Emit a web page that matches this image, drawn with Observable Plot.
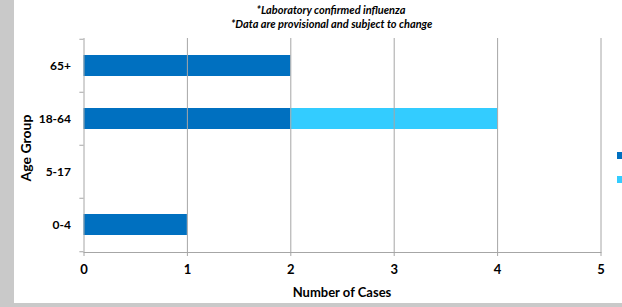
<!DOCTYPE html>
<html>
<head>
<meta charset="utf-8">
<script src="https://cdn.jsdelivr.net/npm/d3@7"></script>
<script src="https://cdn.jsdelivr.net/npm/@observablehq/plot@0.6"></script>
<style>
  html, body { margin: 0; padding: 0; }
  body { width: 622px; height: 307px; overflow: hidden; font-family: Lato, "Open Sans", sans-serif; }
  #wrap { position: relative; width: 622px; height: 307px; background: #c9c9c9; overflow: hidden; }
  #panel { position: absolute; left: 14px; top: 0; width: 608px; height: 303px; background: #fff; }
  #chart { position: absolute; left: 0; top: 0; }
  .title { position: absolute; left: 231px; width: 200px; text-align: center; font-style: italic; font-weight: bold; font-size: 11px; color: #000; white-space: nowrap; }
  .sw { position: absolute; width: 7px; height: 7px; }
  .ylab { position: absolute; left: 25px; top: 148px; transform: translate(-50%, -50%) rotate(-90deg); font-weight: bold; font-size: 14px; white-space: nowrap; }
  .xlab { position: absolute; left: 342px; top: 292px; transform: translate(-50%, -50%); font-weight: bold; font-size: 13px; white-space: nowrap; }
</style>
</head>
<body>
<div id="wrap">
  <div id="panel"></div>
  <div id="chart"></div>
  <div class="title" style="top:3px">*Laboratory confirmed influenza</div>
  <div class="title" style="top:17px">*Data are provisional and subject to change</div>
  <div class="ylab">Age Group</div>
  <div class="xlab">Number of Cases</div>
  <div id="legend"></div>
</div>
<script>
const ageGroups = ["65+", "18-64", "5-17", "0-4"];
const seriesNames = ["Influenza A", "Influenza B"];
const seriesA = [2, 2, 0, 1];
const seriesB = [0, 2, 0, 0];
const xTicks = [0, 1, 2, 3, 4, 5];
const colors = ["#0070C0", "#33CCFF"];

const data = [];
ageGroups.forEach((g, i) => {
  data.push({age: g, series: seriesNames[0], value: seriesA[i]});
  data.push({age: g, series: seriesNames[1], value: seriesB[i]});
});

const H = 307, mt = 38, mb = 55;
const step = (H - mt - mb) / (ageGroups.length);
const gray = "#a6a6a6";

const chart = Plot.plot({
  width: 622,
  height: H,
  marginLeft: 83.5,
  marginRight: 21.5,
  marginTop: mt,
  marginBottom: mb,
  style: {background: "transparent", fontFamily: "Lato, 'Open Sans', sans-serif", fontSize: "12px", fontWeight: "bold", color: "#000"},
  x: {domain: [0, 5], ticks: xTicks},
  y: {domain: ageGroups, paddingInner: 0.6, paddingOuter: 0.3},
  color: {domain: seriesNames, range: colors},
  marks: [
    Plot.barX(data, {y: "age", x: "value", fill: "series"}),
    Plot.ruleX(xTicks, {stroke: gray, strokeWidth: 1}),
    Plot.ruleY(ageGroups, {y: d => d, x1: -0.04, x2: 0, dy: -step / 2, stroke: gray}),
    Plot.ruleY(ageGroups.slice(-1), {y: d => d, x1: -0.04, x2: 0, dy: step / 2, stroke: gray}),
    Plot.frame({anchor: "bottom", stroke: gray}),
    Plot.axisX({ticks: xTicks, tickFormat: d3.format("d"), tickSize: 4, tickPadding: 8, stroke: gray, fill: "#000", label: null, fontWeight: "bold", fontSize: 13}),
    Plot.axisY({tickSize: 0, tickPadding: 13, fill: "#000", label: null, fontWeight: "bold", fontSize: 12})
  ]
});
document.getElementById("chart").appendChild(chart);

const legend = document.getElementById("legend");
seriesNames.forEach((s, i) => {
  const sw = document.createElement("div");
  sw.className = "sw";
  sw.title = s;
  sw.style.left = "617px";
  sw.style.top = (152 + i * 23.5) + "px";
  sw.style.background = colors[i];
  legend.appendChild(sw);
});
</script>
</body>
</html>
